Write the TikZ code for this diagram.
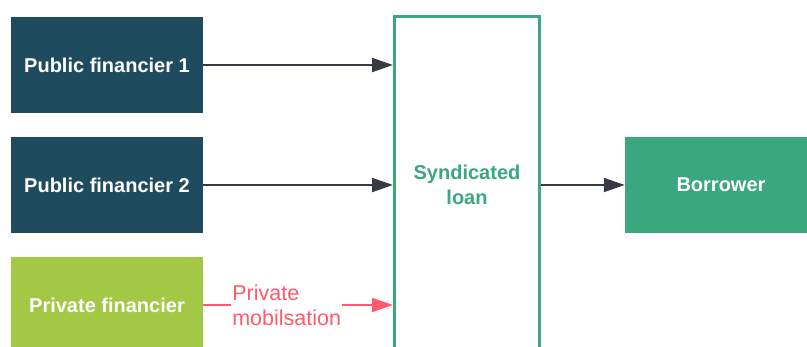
\documentclass[tikz,border=0pt]{standalone}
\usepackage{fontspec}
\setmainfont{Liberation Sans}
\usetikzlibrary{arrows.meta}
\definecolor{darkblue}{HTML}{1F4B5F}
\definecolor{lime}{HTML}{A3C846}
\definecolor{teal}{HTML}{3BA77E}
\definecolor{pinkred}{HTML}{FF5A6C}
\definecolor{arrowgray}{HTML}{353A43}
\tikzset{
  box/.style={minimum width=192pt, minimum height=96pt, inner sep=0pt, text=white,
    font=\fontsize{20}{25}\selectfont\bfseries},
  flow/.style={line width=2pt, draw=arrowgray, -{Triangle[length=21pt,width=14pt]}},
  privflow/.style={line width=2pt, draw=pinkred, -{Triangle[length=21pt,width=14pt]}},
}
\begin{document}
\begin{tikzpicture}[x=1pt,y=-1pt]
\useasboundingbox (0,0) rectangle (807,346);
\clip (0,0) rectangle (807,346);
\node[box, fill=darkblue] (pf1) at (107,65) {Public financier 1};
\node[box, fill=darkblue] (pf2) at (107,185) {Public financier 2};
\node[box, fill=lime] (priv) at (107,305) {Private financier};
\node[draw=teal, line width=3pt, minimum width=145pt, minimum height=337pt, inner sep=0pt,
  text=teal, align=center, font=\fontsize{20}{25}\selectfont\bfseries] (synd) at (467,185) {Syndicated\\loan};
\node[box, fill=teal] (bor) at (721,185) {Borrower};
\draw[flow] (pf1.east) -- (pf1.east -| synd.west);
\draw[flow] (pf2.east) -- (pf2.east -| synd.west);
\draw[privflow] (priv.east) -- node[pos=0.44, fill=white, inner xsep=1pt, inner ysep=0pt, align=left,
  text=pinkred, font=\fontsize{21.5}{25}\selectfont] (lbl) {Private\\mobilsation} (priv.east -| synd.west);
\draw[flow] (synd.east) -- (bor.west);
\end{tikzpicture}
\end{document}
